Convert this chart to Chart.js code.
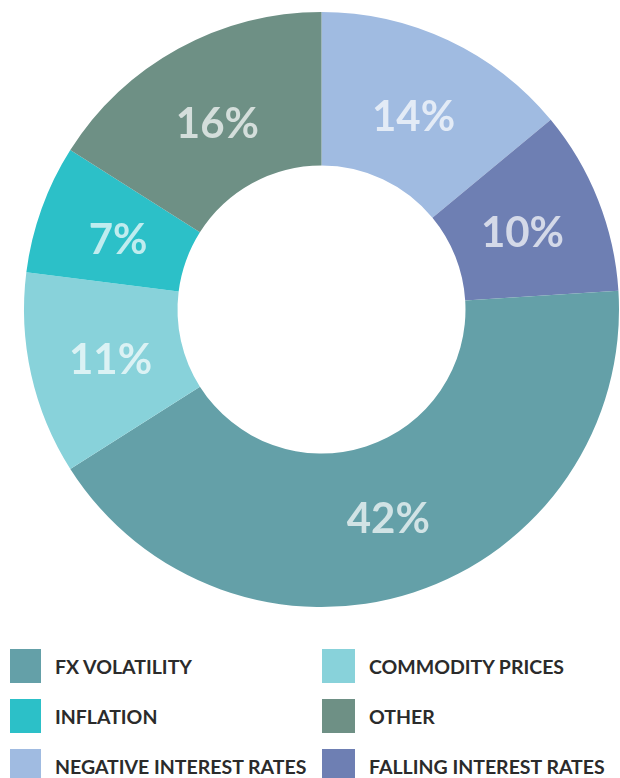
<!DOCTYPE html>
<html>
<head>
<meta charset="utf-8">
<script src="https://cdn.jsdelivr.net/npm/chart.js@4"></script>
<style>
  html, body { margin: 0; padding: 0; background: #fff; }
  body { width: 620px; height: 778px; overflow: hidden; position: relative; font-family: Lato, sans-serif; }
  #wrap { position: absolute; left: 0; top: 0; width: 620px; height: 620px; }
  .legend { position: absolute; left: 0; top: 0; width: 620px; }
  .item { position: absolute; height: 34px; display: flex; align-items: center; }
  .sw { width: 31px; height: 34px; margin-right: 14px; }
  .item span { font-weight: bold; font-size: 19.5px; color: #2b2b2b; white-space: nowrap; }
</style>
</head>
<body>
<div id="wrap"><canvas id="donut" width="620" height="620"></canvas></div>
<div class="legend" id="legend"></div>
<script>
// slices, clockwise from 12 o'clock
const labels = ['NEGATIVE INTEREST RATES', 'FALLING INTEREST RATES', 'FX VOLATILITY', 'COMMODITY PRICES', 'INFLATION', 'OTHER'];
const values = [14, 10, 42, 11, 7, 16];
const colors = ['#a0bbe1', '#6e7fb3', '#64a0a8', '#88d2da', '#2cc0c8', '#6e9085'];

// legend order as in the picture (2 columns)
const legendOrder = ['FX VOLATILITY', 'COMMODITY PRICES', 'INFLATION', 'OTHER', 'NEGATIVE INTEREST RATES', 'FALLING INTEREST RATES'];

const pctLabels = {
    id: 'pctLabels',
    afterDatasetsDraw(chart) {
        const ctx = chart.ctx;
        const meta = chart.getDatasetMeta(0);
        ctx.save();
        ctx.font = 'bold 42px Lato, sans-serif';
        ctx.fillStyle = 'rgba(255,255,255,0.7)';
        ctx.textAlign = 'center';
        ctx.textBaseline = 'middle';
        meta.data.forEach((arc, i) => {
            const mid = (arc.startAngle + arc.endAngle) / 2;
            const r = arc.innerRadius + (arc.outerRadius - arc.innerRadius) * 0.47;
            const x = arc.x + Math.cos(mid) * r;
            const y = arc.y + Math.sin(mid) * r;
            ctx.fillText(values[i] + '%', x, y + 4);
        });
        ctx.restore();
    }
};

const chart = new Chart(document.getElementById('donut'), {
    type: 'doughnut',
    data: {
        labels: labels,
        datasets: [{
            data: values,
            backgroundColor: colors,
            borderWidth: 0
        }]
    },
    options: {
        responsive: false,
        animation: false,
        cutout: '48.4%',
        layout: { padding: { left: 24, right: 1, top: 12, bottom: 13 } },
        plugins: {
            legend: { display: false },
            tooltip: { enabled: false }
        }
    },
    plugins: [pctLabels]
});

// html legend
const legendEl = document.getElementById('legend');
const colX = [10, 322];
const rowY = [649, 699, 749];
legendOrder.forEach((name, i) => {
    const idx = labels.indexOf(name);
    const item = document.createElement('div');
    item.className = 'item';
    item.style.left = colX[i % 2] + 'px';
    item.style.top = rowY[Math.floor(i / 2)] + 'px';
    const sw = document.createElement('div');
    sw.className = 'sw';
    sw.style.background = colors[idx];
    if (i % 2) sw.style.width = '33px';
    const txt = document.createElement('span');
    txt.textContent = name;
    item.appendChild(sw);
    item.appendChild(txt);
    legendEl.appendChild(item);
});
</script>
</body>
</html>
